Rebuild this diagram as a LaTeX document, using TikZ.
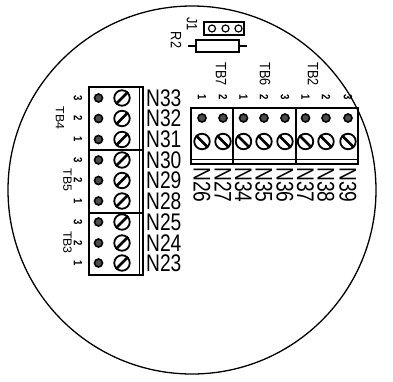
\documentclass[tikz,border=0pt]{standalone}
\usepackage{fontspec}
\setmainfont{Liberation Sans}
\begin{document}
\begin{tikzpicture}[x=1pt,y=-1pt,line cap=butt,
  ln/.style={draw=black,line width=1.3pt},
  thick box/.style={draw=black,line width=1.6pt},
  nlab/.style={inner sep=0pt,font=\fontsize{24}{24}\selectfont,xscale=0.8,transform shape},
  vlab/.style={inner sep=0pt,font=\fontsize{24}{24}\selectfont,rotate=-90,xscale=0.8,anchor=west},
  numlab/.style={inner sep=0pt,font=\bfseries\fontsize{12}{12}\selectfont,rotate=-90,xscale=0.8},
  tblab/.style={inner sep=0pt,font=\fontsize{15}{15}\selectfont,rotate=-90,xscale=0.85},
  tbleft/.style={inner sep=0pt,font=\fontsize{12}{12}\selectfont,rotate=-90,xscale=1.03},
  hole/.style={circle,draw=black,fill=black!70,line width=1.6pt,minimum size=8pt,inner sep=0pt},
  screw/.style={circle,draw=black,line width=1.8pt,minimum size=15.5pt,inner sep=0pt},
  slot/.style={line width=2.6pt}]
\useasboundingbox (0,0) rectangle (393,381);
\fill[white] (0,0) rectangle (393,381);
\draw[line width=1.3pt] (192,190) circle (184);
% left blocks
\draw[thick box] (89,87) rectangle (143,275);
\draw[ln] (139.5,87) -- (139.5,275);
\draw[thick box] (89,150) -- (143,150);
\draw[thick box] (89,213) -- (143,213);
\foreach \y/\n/\l/\i in {98/3/N33/a,118.5/2/N32/b,139.5/1/N31/c,160/3/N30/d,180.5/2/N29/e,201/1/N28/f,222/3/N25/g,243/2/N24/h,263/1/N23/i}{
  \node[hole] (lh\i) at (98.5,\y) {};
  \node[screw] (ls\i) at (122,\y) {};
  \draw[slot] (ls\i.south west) -- (ls\i.north east);
  \node[numlab] (ln\i) at (78,\y) {\n};
  \node[nlab,anchor=west] (ll\i) at (146,\y) {\l};
}
\node[tbleft] (tb4) at (60,118) {TB4};
\node[tbleft] (tb5) at (67.5,180) {TB5};
\node[tbleft] (tb3) at (67.5,242.5) {TB3};
% right blocks
\draw[thick box] (191,108) rectangle (358,164);
\draw[ln] (191,159.5) -- (358,159.5);
\draw[thick box] (233,108) -- (233,164);
\draw[thick box] (296,108) -- (296,164);
\foreach \x/\n/\l/\i in {202/1/N26/a,223/2/N27/b,243.5/1/N34/c,264/2/N35/d,285/3/N36/e,305.5/1/N37/f,326/2/N38/g,348/3/N39/h}{
  \node[hole] (rh\i) at (\x,118) {};
  \node[screw] (rs\i) at (\x,141.5) {};
  \draw[slot] (rs\i.north west) -- (rs\i.south east);
  \node[numlab] (rn\i) at (\x,97) {\n};
  \node[vlab] (rl\i) at (\x,167) {\l};
}
\node[tblab] (tb7) at (221,74) {TB7};
\node[tblab] (tb6) at (265,74) {TB6};
\node[tblab] (tb2) at (313,74) {TB2};
% J1 and R2
\draw[ln] (204,22) rectangle (244,35);
\foreach \x/\i in {212/a,225.5/b,238.5/c}{\node[circle,draw=black,line width=1.2pt,minimum size=7pt,inner sep=0pt] (j\i) at (\x,28.5) {};}
\node[tblab] (j1) at (192,24) {J1};
\node[tblab] (r2) at (176,40) {R2};
\node[ln,minimum width=43pt,minimum height=12pt,inner sep=0pt] (res) at (217.5,46) {};
\coordinate (la) at (188,46);
\coordinate (lb) at (247,46);
\draw[ln] (la) -- (res.west);
\draw[ln] (res.east) -- (lb);
\end{tikzpicture}
\end{document}
